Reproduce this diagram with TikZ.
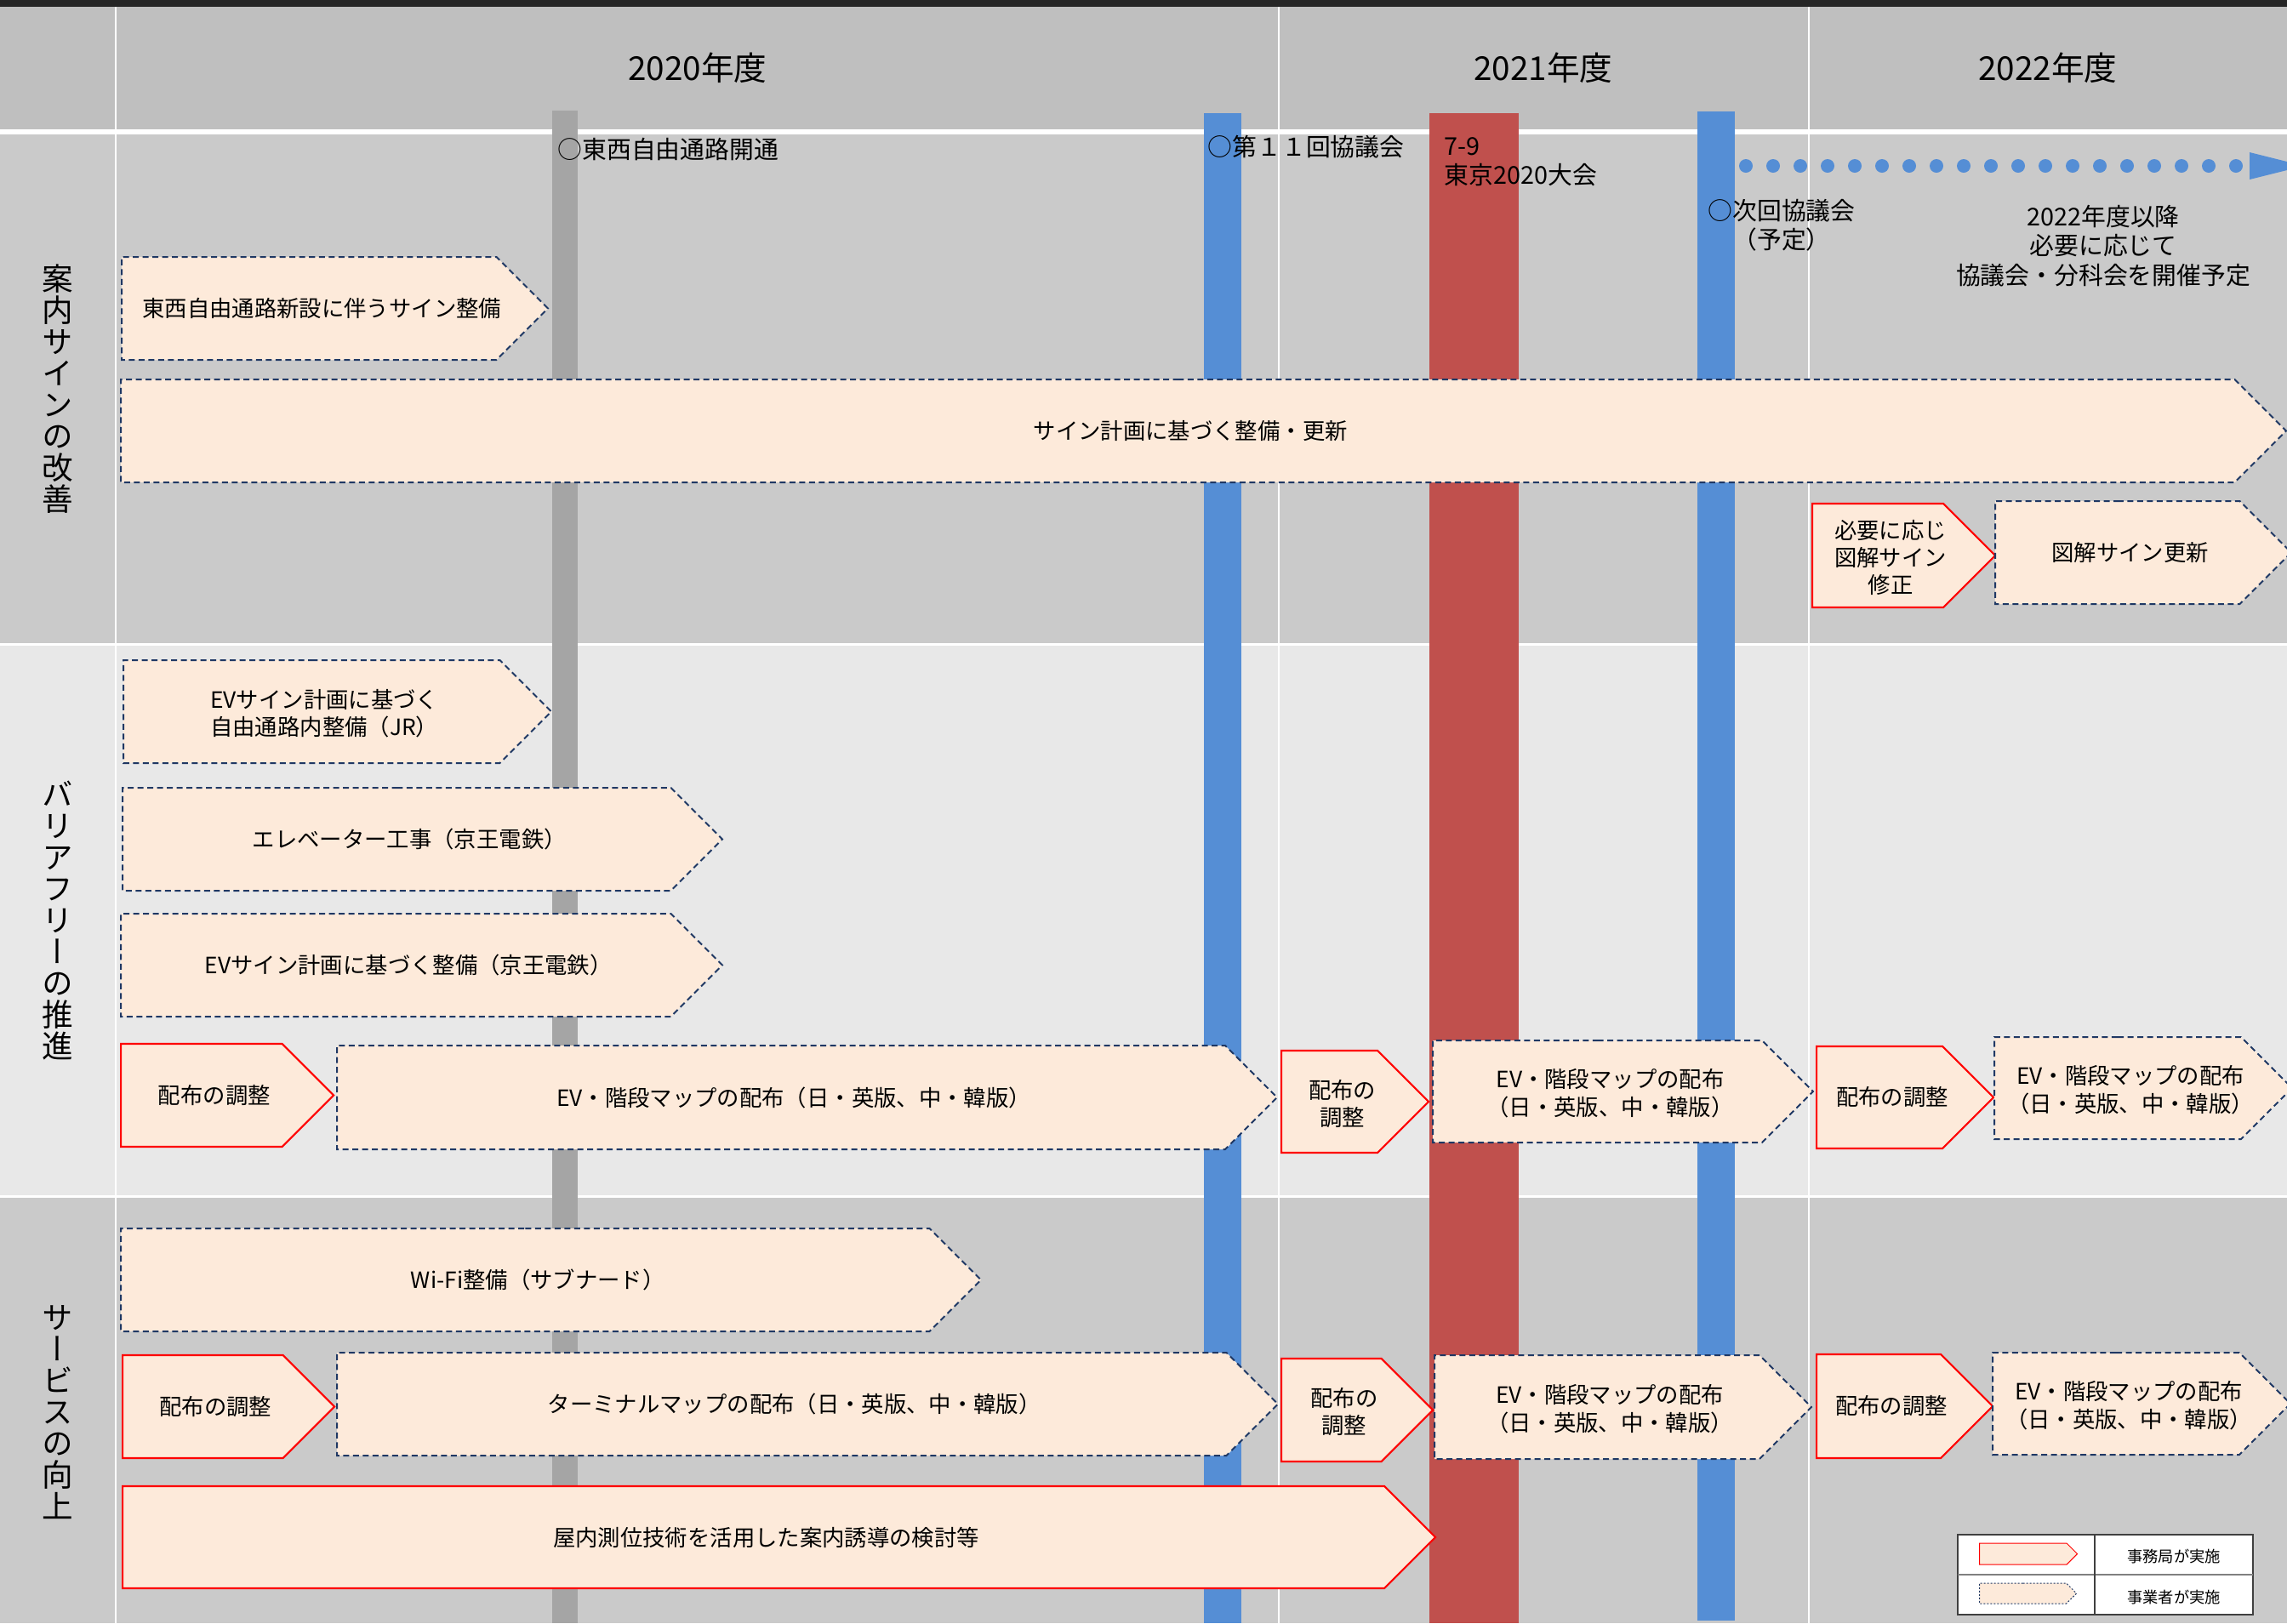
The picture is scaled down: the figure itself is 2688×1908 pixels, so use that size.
\documentclass[tikz,border=0pt]{standalone}
\usepackage{fontspec}
\setmainfont{Noto Sans CJK JP}
\newfontfamily\tatefont[RawFeature=+vert]{Noto Sans CJK JP}
\usepackage{xcolor}
\usepackage{tikz}
\usetikzlibrary{shapes,fit,calc,positioning}

\definecolor{topbar}{HTML}{262626}
\definecolor{headgray}{HTML}{BFBFBF}
\definecolor{rowdark}{HTML}{CACACA}
\definecolor{rowlight}{HTML}{E8E8E8}
\definecolor{bargray}{HTML}{A5A5A5}
\definecolor{barblue}{HTML}{558ED5}
\definecolor{barred}{HTML}{C0504D}
\definecolor{peach}{HTML}{FDEADA}
\definecolor{navy}{HTML}{1F3864}

\newcommand{\cellstack}[1]{\raisebox{-1.6pt}[\height][\depth]{\begin{tabular}{@{}c@{}}#1\end{tabular}}}

\tikzset{
  officeshape/.style={signal, draw=red, line width=0.22mm, fill=peach, inner sep=0pt},
  vendorshape/.style={signal, draw=navy, line width=0.2mm, dash pattern=on 0.7mm off 0.45mm, fill=peach, inner sep=0pt},
  tasktext/.style={font=\fontsize{7.5}{9.1}\selectfont,
    execute at begin node={\kern1.5mm}, execute at end node={\kern-1.5mm}},
  office/.style={officeshape, tasktext},
  vendor/.style={vendorshape, tasktext},
  annot/.style={inner sep=0pt, font=\fontsize{8.2}{9.7}\selectfont},
  yearlabel/.style={inner sep=0pt, font=\fontsize{11}{13}\selectfont},
  lane/.style={inner sep=0pt, align=center, font=\tatefont\fontsize{10.4}{10.5}\selectfont},
}

\begin{document}
\begin{tikzpicture}[x=0.1mm, y=-0.1mm]
\useasboundingbox (0,0) rectangle (2688,1908);

% background and grid
\fill[topbar] (0,0) rectangle (2688,8);
\fill[headgray] (0,8) rectangle (2688,155);
\fill[rowdark] (0,155) rectangle (2688,757);
\fill[rowlight] (0,757) rectangle (2688,1406);
\fill[rowdark] (0,1406) rectangle (2688,1908);
\draw[white, line width=0.6mm] (0,155) -- (2688,155);
\draw[white, line width=0.3mm] (0,757) -- (2688,757);
\draw[white, line width=0.3mm] (0,1406) -- (2688,1406);
\foreach \x in {136,1503,2126}
  \draw[white, line width=0.25mm] (\x,8) -- (\x,1908);

% milestones
\fill[bargray] (649,130) rectangle (679,1908);
\fill[barblue] (1415,133) rectangle (1459,1908);
\fill[barred] (1680,133) rectangle (1785,1908);
\fill[barblue] (1995,131) rectangle (2039,1905);

\node[yearlabel](y2020) at (820,80) {2020年度};
\node[yearlabel](y2021) at (1814,80) {2021年度};
\node[yearlabel](y2022) at (2407,80) {2022年度};

\node[lane](lane1) at (68,457) {案\\内\\サ\\イ\\ン\\の\\改\\善};
\node[lane](lane2) at (68,1082) {バ\\リ\\ア\\フ\\リ\\ー\\の\\推\\進};
\node[lane](lane3) at (68,1660) {サ\\ー\\ビ\\ス\\の\\向\\上};

\node[annot, anchor=west](open) at (655,176) {○東西自由通路開通};
\node[annot, anchor=west](meet11) at (1419,173) {○第１１回協議会};
\node[annot, anchor=west, align=left](games) at (1697,190) {7-9\\東京2020大会};
\node[annot, align=center](meetnext) at (2094,265) {○次回協議会\\（予定）};
\node[annot, align=center](later) at (2472,289) {2022年度以降\\必要に応じて\\協議会・分科会を開催予定};

\coordinate(dotS) at (2052,195);
\coordinate(dotE) at (2630,195);
\draw[barblue, line width=1.6mm, line cap=round, dash pattern=on 0pt off 3.2mm] (dotS) -- (dotE);
\fill[barblue] (2644,179) -- (2708,195) -- (2644,211) -- cycle;

% sign improvement
\coordinate(O1) at (142,362.5);
\node[right=0cm of O1, vendor, minimum width=50.1mm, minimum height=12.1mm](sign1) {東西自由通路新設に伴うサイン整備};
\coordinate(O1) at (141,506.5);
\node[right=0cm of O1, vendor, minimum width=254.5mm, minimum height=12.1mm](sign2) {サイン計画に基づく整備・更新};
\coordinate(O1) at (2129,653);
\node[right=0cm of O1, office, minimum width=21.5mm, minimum height=12.2mm](sign3) {\cellstack{必要に応じ\\図解サイン\\修正}};
\coordinate(O1) at (2344,649.5);
\node[right=0cm of O1, vendor, minimum width=34.8mm, minimum height=12.1mm](sign4) {図解サイン更新};

% barrier free
\coordinate(O1) at (144,836.5);
\node[right=0cm of O1, vendor, minimum width=50.3mm, minimum height=12.1mm](bf1) {\cellstack{EVサイン計画に基づく\\自由通路内整備（JR）}};
\coordinate(O1) at (143,986.5);
\node[right=0cm of O1, vendor, minimum width=70.5mm, minimum height=12.1mm](bf2) {エレベーター工事（京王電鉄）};
\coordinate(O1) at (141,1134.5);
\node[right=0cm of O1, vendor, minimum width=70.7mm, minimum height=12.1mm](bf3) {EVサイン計画に基づく整備（京王電鉄）};
\coordinate(O1) at (141,1287.5);
\node[right=0cm of O1, office, minimum width=25mm, minimum height=12.1mm](bf4) {配布の調整};
\coordinate(O1) at (395,1290);
\node[right=0cm of O1, vendor, minimum width=110.5mm, minimum height=12.2mm](bf5) {EV・階段マップの配布（日・英版、中・韓版）};
\coordinate(O1) at (1505,1295);
\node[right=0cm of O1, office, minimum width=17.3mm, minimum height=12mm](bf6) {\cellstack{配布の\\調整}};
\coordinate(O1) at (1683,1283);
\node[right=0cm of O1, vendor, minimum width=44.7mm, minimum height=12mm](bf7) {\cellstack{EV・階段マップの配布\\（日・英版、中・韓版）}};
\coordinate(O1) at (2134,1290);
\node[right=0cm of O1, office, minimum width=20.8mm, minimum height=12mm](bf8) {配布の調整};
\coordinate(O1) at (2343,1279);
\node[right=0cm of O1, vendor, minimum width=34.3mm, minimum height=12mm](bf9) {\cellstack{EV・階段マップの配布\\（日・英版、中・韓版）}};

% service
\coordinate(O1) at (141,1504.5);
\node[right=0cm of O1, vendor, minimum width=101.1mm, minimum height=12.1mm](sv1) {Wi-Fi整備（サブナード）};
\coordinate(O1) at (143,1653.5);
\node[right=0cm of O1, office, minimum width=24.9mm, minimum height=12.1mm](sv2) {配布の調整};
\coordinate(O1) at (395,1650.5);
\node[right=0cm of O1, vendor, minimum width=110.6mm, minimum height=12.1mm](sv3) {ターミナルマップの配布（日・英版、中・韓版）};
\coordinate(O1) at (1505,1657.5);
\node[right=0cm of O1, office, minimum width=17.8mm, minimum height=12.1mm](sv4) {\cellstack{配布の\\調整}};
\coordinate(O1) at (1685,1654);
\node[right=0cm of O1, vendor, minimum width=44.3mm, minimum height=12.2mm](sv5) {\cellstack{EV・階段マップの配布\\（日・英版、中・韓版）}};
\coordinate(O1) at (2134,1653);
\node[right=0cm of O1, office, minimum width=20.7mm, minimum height=12.2mm](sv6) {配布の調整};
\coordinate(O1) at (2341,1650);
\node[right=0cm of O1, vendor, minimum width=34.1mm, minimum height=12mm](sv7) {\cellstack{EV・階段マップの配布\\（日・英版、中・韓版）}};
\coordinate(O1) at (143,1807);
\node[right=0cm of O1, office, minimum width=154.3mm, minimum height=12mm](sv8) {屋内測位技術を活用した案内誘導の検討等};

% legend
\draw[fill=white, draw=black!75, line width=0.2mm] (2301,1804) rectangle (2648,1898);
\draw[black!50, line width=0.25mm] (2301,1851) -- (2648,1851);
\draw[black!75, line width=0.15mm] (2462,1804) -- (2462,1898);
\coordinate(O1) at (2326,1826.5);
\node[right=0cm of O1, officeshape, line width=0.1mm, minimum width=11.5mm, minimum height=2.5mm](keyA) {};
\coordinate(O1) at (2326,1873);
\node[right=0cm of O1, vendorshape, line width=0.1mm, dash pattern=on 0.2mm off 0.2mm, minimum width=11.4mm, minimum height=2.4mm](keyB) {};
\node[inner sep=0pt, font=\fontsize{5.2}{6}\selectfont](keyAtext) at (2555,1829) {事務局が実施};
\node[inner sep=0pt, font=\fontsize{5.2}{6}\selectfont](keyBtext) at (2555,1877) {事業者が実施};
\end{tikzpicture}
\end{document}
